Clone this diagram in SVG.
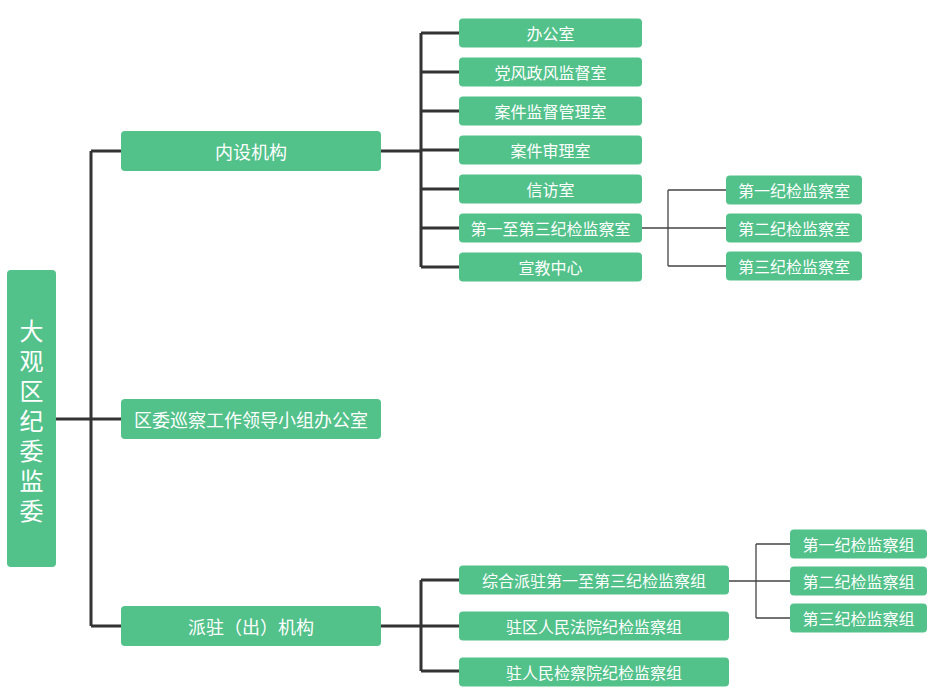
<svg xmlns="http://www.w3.org/2000/svg" width="937" height="695" viewBox="0 0 937 695">
<style>
.box{fill:#52c18a}
.t{fill:#ffffff;font-family:"Noto Sans CJK SC","Noto Sans CJK TC",sans-serif;text-anchor:middle;dominant-baseline:central}
.l1{font-size:18px}
.l2{font-size:16px}
.root{font-size:24px;writing-mode:vertical-rl;letter-spacing:6px}
.thick{stroke:#333333;stroke-width:3;fill:none}
.thin{stroke:#444444;stroke-width:1.3;fill:none}
</style>
<rect width="937" height="695" fill="#ffffff"/>
<g id="connectors">
  <path class="thick" d="M56 419H91M91 151V626M91 151H121M91 419H121M91 626H121"/>
  <path class="thick" d="M381 151H421M421 33V267M421 33H459M421 72H459M421 111H459M421 150H459M421 189H459M421 228H459M421 267H459"/>
  <path class="thin" d="M642 228H726M668 190V266M668 190H726M668 266H726"/>
  <path class="thick" d="M381 626H459M421 580V671M421 580H459M421 671H459"/>
  <path class="thin" d="M729 581H790M756 544V618M756 544H790M756 618H790"/>
</g>
<g id="root">
  <rect class="box" x="7" y="270" width="49" height="297" rx="4"/>
  <text class="t root" x="31.5" y="424">大观区纪委监委</text>
</g>
<g id="n-neishe">
  <rect class="box" x="121" y="131" width="260" height="40" rx="4"/>
  <text class="t l1" x="251" y="151">内设机构</text>
</g>
<g id="n-xuncha">
  <rect class="box" x="121" y="399" width="260" height="40" rx="4"/>
  <text class="t l1" x="251" y="419">区委巡察工作领导小组办公室</text>
</g>
<g id="n-paizhu">
  <rect class="box" x="121" y="606" width="260" height="40" rx="4"/>
  <text class="t l1" x="251" y="626">派驻（出）机构</text>
</g>
<g id="n-bgs">
  <rect class="box" x="459" y="18.5" width="183" height="29" rx="4"/>
  <text class="t l2" x="550.5" y="33">办公室</text>
</g>
<g id="n-dfzf">
  <rect class="box" x="459" y="57.5" width="183" height="29" rx="4"/>
  <text class="t l2" x="550.5" y="72">党风政风监督室</text>
</g>
<g id="n-ajjdgl">
  <rect class="box" x="459" y="96.5" width="183" height="29" rx="4"/>
  <text class="t l2" x="550.5" y="111">案件监督管理室</text>
</g>
<g id="n-ajsl">
  <rect class="box" x="459" y="135.5" width="183" height="29" rx="4"/>
  <text class="t l2" x="550.5" y="150">案件审理室</text>
</g>
<g id="n-xf">
  <rect class="box" x="459" y="174.5" width="183" height="29" rx="4"/>
  <text class="t l2" x="550.5" y="189">信访室</text>
</g>
<g id="n-jjjcs">
  <rect class="box" x="459" y="213.5" width="183" height="29" rx="4"/>
  <text class="t l2" x="550.5" y="228">第一至第三纪检监察室</text>
</g>
<g id="n-xj">
  <rect class="box" x="459" y="252.5" width="183" height="29" rx="4"/>
  <text class="t l2" x="550.5" y="267">宣教中心</text>
</g>
<g id="n-s1">
  <rect class="box" x="726" y="175.5" width="136" height="29" rx="4"/>
  <text class="t l2" x="794" y="190">第一纪检监察室</text>
</g>
<g id="n-s2">
  <rect class="box" x="726" y="213.5" width="136" height="29" rx="4"/>
  <text class="t l2" x="794" y="228">第二纪检监察室</text>
</g>
<g id="n-s3">
  <rect class="box" x="726" y="251.5" width="136" height="29" rx="4"/>
  <text class="t l2" x="794" y="266">第三纪检监察室</text>
</g>
<g id="n-zhpz">
  <rect class="box" x="459" y="565.5" width="270" height="29" rx="4"/>
  <text class="t l2" x="594" y="580">综合派驻第一至第三纪检监察组</text>
</g>
<g id="n-fy">
  <rect class="box" x="459" y="611.5" width="270" height="29" rx="4"/>
  <text class="t l2" x="594" y="626">驻区人民法院纪检监察组</text>
</g>
<g id="n-jcy">
  <rect class="box" x="459" y="657.5" width="270" height="29" rx="4"/>
  <text class="t l2" x="594" y="672">驻人民检察院纪检监察组</text>
</g>
<g id="n-g1">
  <rect class="box" x="790" y="529.5" width="137" height="29" rx="4"/>
  <text class="t l2" x="858.5" y="544">第一纪检监察组</text>
</g>
<g id="n-g2">
  <rect class="box" x="790" y="566.5" width="137" height="29" rx="4"/>
  <text class="t l2" x="858.5" y="581">第二纪检监察组</text>
</g>
<g id="n-g3">
  <rect class="box" x="790" y="603.5" width="137" height="29" rx="4"/>
  <text class="t l2" x="858.5" y="618">第三纪检监察组</text>
</g>
</svg>
